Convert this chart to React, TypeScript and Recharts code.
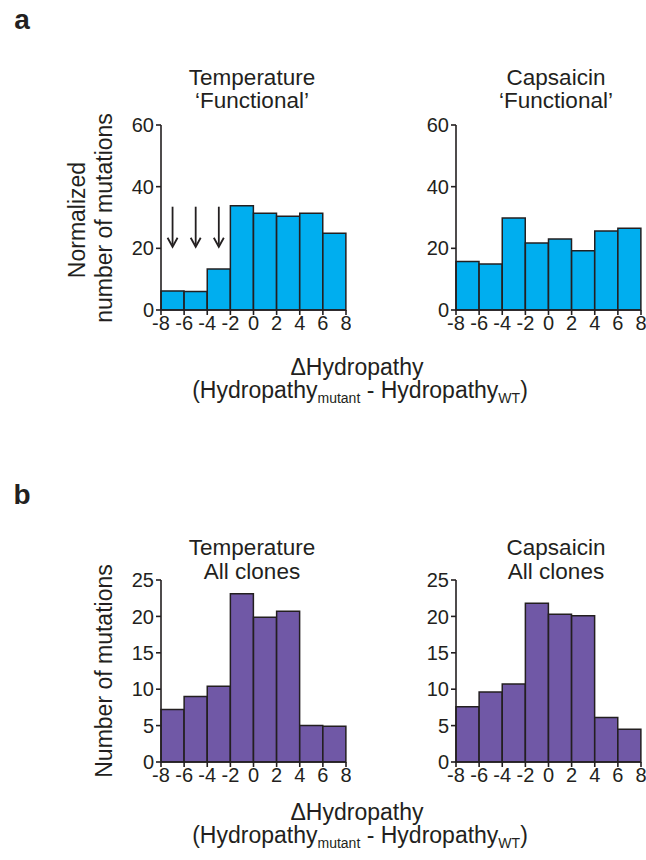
import React from "react";
import { BarChart, Bar, XAxis, YAxis, ReferenceLine } from "recharts";

// bin centres of the ΔHydropathy histograms
const bins = [-7, -5, -3, -1, 1, 3, 5, 7];
const xTicks = [-8, -6, -4, -2, 0, 2, 4, 6, 8];

// panel a – normalized counts, functional clones
const tempFunctional = [6.2, 6.0, 13.3, 33.8, 31.4, 30.4, 31.4, 24.9];
const capFunctional = [15.7, 14.9, 29.8, 21.7, 23.0, 19.2, 25.6, 26.5];
const yTicksA = [0, 20, 40, 60];

// panel b – raw counts, all clones
const tempAll = [7.2, 9.0, 10.4, 23.1, 19.9, 20.7, 5.0, 4.9];
const capAll = [7.6, 9.6, 10.7, 21.8, 20.3, 20.1, 6.1, 4.5];
const yTicksB = [0, 5, 10, 15, 20, 25];

// arrows over the depleted hydrophobic bins (temperature, functional)
const arrowBins = [-7, -5, -3];
const arrowTop = 33.5;
const arrowTip = 20.5;

const INK = "#231f20";
const CYAN = "#00aeef";
const PURPLE = "#7058a6";
const FONT = "'Liberation Sans', Arial, Helvetica, sans-serif";

const Y_AXIS_W = 60;
const PLOT_W = 185;
const M_TOP = 12;
const M_RIGHT = 5;
const X_AXIS_H = 32;

function Arrow(props: any) {
  const { x1, y1, y2 } = props;
  return (
    <g>
      <line x1={x1} y1={y1} x2={x1} y2={y2 - 2} stroke={INK} strokeWidth={1.8} />
      <path d={`M${x1 - 5},${y2 - 9} L${x1},${y2} L${x1 + 5},${y2 - 9}`} fill="none" stroke={INK} strokeWidth={1.8} />
    </g>
  );
}

function Hist(props: {
  plotLeft: number;
  plotTop: number;
  plotH: number;
  values: number[];
  fill: string;
  yTicks: number[];
  arrows?: boolean;
}) {
  const { plotLeft, plotTop, plotH, values, fill, yTicks, arrows } = props;
  const data = bins.map((b, i) => ({ x: b, v: values[i] }));
  const width = Y_AXIS_W + PLOT_W + M_RIGHT;
  const height = M_TOP + plotH + X_AXIS_H;
  const tick = { fill: INK, fontSize: 20, fontFamily: FONT };
  return (
    <div style={{ position: "absolute", left: plotLeft - Y_AXIS_W, top: plotTop - M_TOP }}>
      <BarChart
        width={width}
        height={height}
        data={data}
        margin={{ top: M_TOP, right: M_RIGHT, bottom: 0, left: 0 }}
        barCategoryGap={0}
        barGap={0}
      >
        <XAxis
          dataKey="x"
          type="number"
          domain={[-8, 8]}
          ticks={xTicks}
          interval={0}
          height={X_AXIS_H}
          tick={tick}
          tickSize={5}
          tickMargin={1}
          axisLine={{ stroke: INK, strokeWidth: 1.6 }}
          tickLine={{ stroke: INK, strokeWidth: 1.6 }}
        />
        <YAxis
          type="number"
          domain={[yTicks[0], yTicks[yTicks.length - 1]]}
          ticks={yTicks}
          interval={0}
          width={Y_AXIS_W}
          tick={tick}
          tickSize={5}
          tickMargin={2}
          axisLine={{ stroke: INK, strokeWidth: 1.6 }}
          tickLine={{ stroke: INK, strokeWidth: 1.6 }}
        />
        <Bar dataKey="v" fill={fill} stroke={INK} strokeWidth={1.5} isAnimationActive={false} />
        {arrows &&
          arrowBins.map((b) => (
            <ReferenceLine
              key={b}
              segment={[
                { x: b, y: arrowTop },
                { x: b, y: arrowTip },
              ]}
              shape={Arrow}
            />
          ))}
      </BarChart>
    </div>
  );
}

function Label(props: { x: number; y: number; size?: number; rotate?: boolean; bold?: boolean; children: React.ReactNode }) {
  const { x, y, size = 22.5, rotate, bold, children } = props;
  return (
    <div
      style={{
        position: "absolute",
        left: x,
        top: y,
        transform: `translate(-50%, -50%)${rotate ? " rotate(-90deg)" : ""}`,
        whiteSpace: "nowrap",
        fontFamily: FONT,
        fontSize: size,
        fontWeight: bold ? 700 : 400,
        color: INK,
        lineHeight: 1,
        textAlign: "center",
      }}
    >
      {children}
    </div>
  );
}

function XTitle({ y }: { y: number }) {
  return (
    <>
      <Label x={357} y={y} size={23}>ΔHydropathy</Label>
      <Label x={360} y={y + 25} size={23}>
        (Hydropathy
        <sub style={{ fontSize: 14, verticalAlign: "-5px" }}>mutant</sub>
        {" - Hydropathy"}
        <sub style={{ fontSize: 14, verticalAlign: "-5px" }}>WT</sub>)
      </Label>
    </>
  );
}

export default function App() {
  return (
    <div style={{ position: "absolute", left: 0, top: 0, width: 646, height: 860, background: "#fff", overflow: "hidden" }}>
      <Label x={22} y={20} size={28} bold>a</Label>
      <Label x={252} y={78}>Temperature</Label>
      <Label x={252} y={101}>‘Functional’</Label>
      <Label x={556} y={78}>Capsaicin</Label>
      <Label x={556} y={101}>‘Functional’</Label>
      <Label x={77} y={220} size={23} rotate>Normalized</Label>
      <Label x={104} y={218} size={23} rotate>number of mutations</Label>

      <Hist plotLeft={161} plotTop={125} plotH={185} values={tempFunctional} fill={CYAN} yTicks={yTicksA} arrows />
      <Hist plotLeft={456} plotTop={125} plotH={185} values={capFunctional} fill={CYAN} yTicks={yTicksA} />
      <XTitle y={367} />

      <Label x={22} y={495} size={28} bold>b</Label>
      <Label x={252} y={548}>Temperature</Label>
      <Label x={252} y={572}>All clones</Label>
      <Label x={556} y={548}>Capsaicin</Label>
      <Label x={556} y={572}>All clones</Label>
      <Label x={104} y={671} size={23} rotate>Number of mutations</Label>

      <Hist plotLeft={161} plotTop={580} plotH={182} values={tempAll} fill={PURPLE} yTicks={yTicksB} />
      <Hist plotLeft={456} plotTop={580} plotH={182} values={capAll} fill={PURPLE} yTicks={yTicksB} />
      <XTitle y={812} />
    </div>
  );
}
